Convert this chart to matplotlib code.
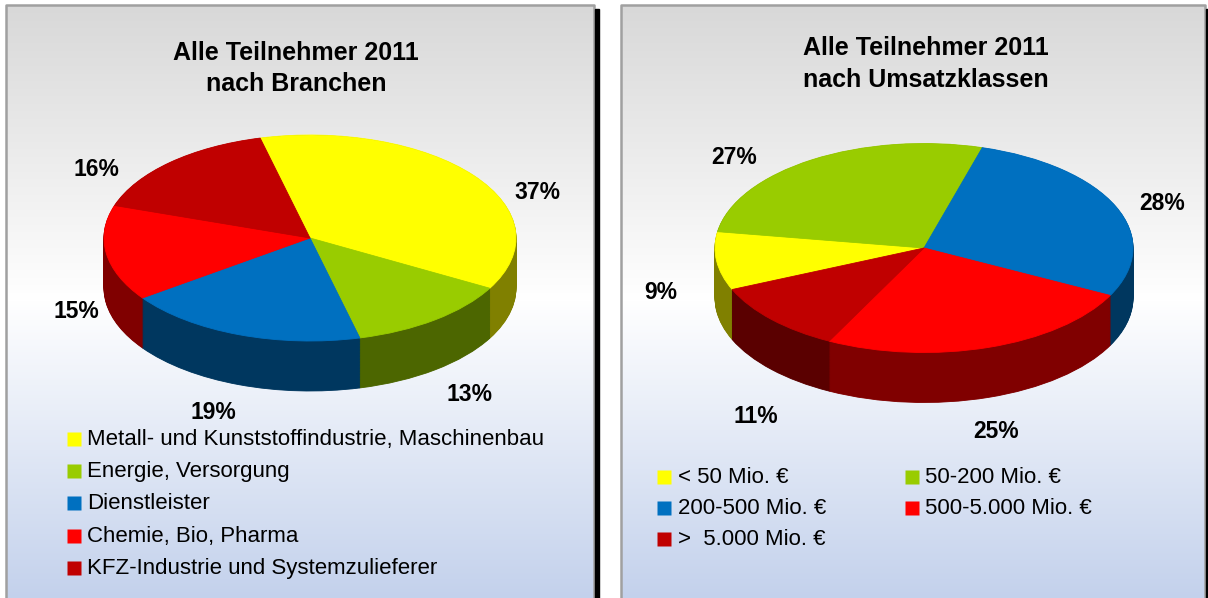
import numpy as np
import matplotlib.pyplot as plt
from matplotlib.colors import to_rgb
from matplotlib.patches import Rectangle

plt.rcParams['font.family'] = ['Liberation Sans', 'DejaVu Sans']

W, H = 1208, 598

# data
branch_labels = ["Metall- und Kunststoffindustrie, Maschinenbau",
                 "Energie, Versorgung", "Dienstleister",
                 "Chemie, Bio, Pharma", "KFZ-Industrie und Systemzulieferer"]
branch_share = [37, 13, 19, 15, 16]

size_labels = ["< 50 Mio. €", "50-200 Mio. €", "200-500 Mio. €",
               "500-5.000 Mio. €", ">  5.000 Mio. €"]
size_share = [9, 27, 28, 25, 11]

top_colors = ["#FFFF00", "#99CC00", "#0070C0", "#FF0000", "#C00000"]
side_colors = ["#808000", "#4C6600", "#00375F", "#800000", "#5A0000"]

fig = plt.figure(figsize=(W / 100, H / 100), dpi=100)
fig.patch.set_facecolor("white")

# background panels (pixel coords, y down)
bg = fig.add_axes([0, 0, 1, 1])
bg.set_xlim(0, W)
bg.set_ylim(H, 0)
bg.axis("off")

rows = np.arange(5, H)
stops = [5, 300, H]
c_top, c_mid, c_bot = to_rgb("#d8d8d8"), to_rgb("#ffffff"), to_rgb("#c3d1ec")
grad = np.stack([np.interp(rows, stops, [c_top[i], c_mid[i], c_bot[i]])
                 for i in range(3)], axis=-1)[:, None, :]

for x0, x1 in [(6, 594), (621, 1205)]:
    bg.imshow(grad, extent=(x0, x1, H, 5), aspect="auto", zorder=0)
    bg.plot([x0, x0, x1, x1], [H, 5, 5, H], color="#a0a0a0", lw=1.8, zorder=1)
    bg.add_patch(Rectangle((x1 + 1, 9), 4, H, color="black", zorder=1))
bg.set_xlim(0, W)
bg.set_ylim(H, 0)

# pie axes: y data = 2 * pixel height, so circles become flat ellipses
pa = fig.add_axes([0, 0, 1, 1])
pa.patch.set_visible(False)


def pie3d(vals, cx, cy, r, start, depth):
    cyd = 2 * (H - cy)
    for off in np.arange(2 * depth, 0, -1.5):
        wedges, _ = pa.pie(vals, colors=side_colors, startangle=start,
                           counterclock=False, center=(cx, cyd - off), radius=r)
        for w in wedges:
            w.set_edgecolor(w.get_facecolor())
            w.set_linewidth(0.6)
    wedges, _ = pa.pie(vals, colors=top_colors, startangle=start,
                       counterclock=False, center=(cx, cyd), radius=r)
    for w in wedges:
        w.set_edgecolor(w.get_facecolor())
        w.set_linewidth(0.6)


pie3d(branch_share, 310, 238, 206, 104, 50)
pie3d(size_share, 924, 248, 209, 203.4, 50)
pa.set_aspect("auto")
pa.set_xlim(0, W)
pa.set_ylim(0, 2 * H)
pa.axis("off")

# titles
tkw = dict(ha="center", va="baseline", fontsize=18, fontweight="bold")
bg.text(296, 60, "Alle Teilnehmer 2011", **tkw)
bg.text(296, 91, "nach Branchen", **tkw)
bg.text(926, 55, "Alle Teilnehmer 2011", **tkw)
bg.text(926, 87, "nach Umsatzklassen", **tkw)

# percentage labels
left_pos = [(537, 199), (469, 401), (213, 419), (76, 318), (96, 176)]
right_pos = [(661, 299), (734, 164), (1162, 210), (996, 438), (756, 423)]
for v, (x, y) in zip(branch_share, left_pos):
    bg.text(x, y, f"{v}%", ha="center", va="baseline", fontsize=16.5,
            fontweight="bold", zorder=5)
for v, (x, y) in zip(size_share, right_pos):
    bg.text(x, y, f"{v}%", ha="center", va="baseline", fontsize=16.5,
            fontweight="bold", zorder=5)

# legends
for i, (lab, col) in enumerate(zip(branch_labels, top_colors)):
    y = 439 + 32.2 * i
    bg.plot(74, y, "s", ms=10, color=col, mec="none", zorder=5)
    bg.text(87, y + 6, lab, va="baseline", fontsize=16, zorder=5)

cols_x = [(664, 678), (912, 925)]
for i, (lab, col) in enumerate(zip(size_labels, top_colors)):
    sx, tx = cols_x[i % 2]
    y = 477 + 31 * (i // 2)
    bg.plot(sx, y, "s", ms=10, color=col, mec="none", zorder=5)
    bg.text(tx, y + 6, lab, va="baseline", fontsize=16, zorder=5)

fig.savefig("out.png", dpi=100)
